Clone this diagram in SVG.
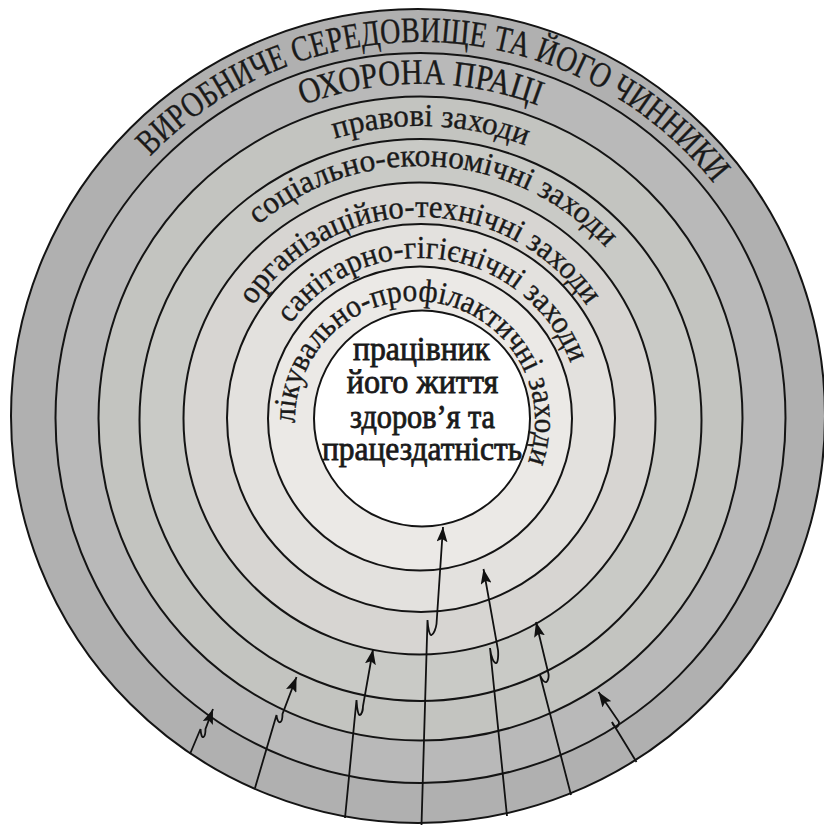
<svg xmlns="http://www.w3.org/2000/svg" width="824" height="827" viewBox="0 0 824 827">
<style>
.ring{stroke:#141414;stroke-width:2}
.lbl{font-family:"Liberation Serif","DejaVu Serif",serif;fill:#1a1a1a;stroke:#1a1a1a;stroke-width:0.35}
.caps{font-size:36px}
.low{font-size:32px}
.core{font-family:"Liberation Serif","DejaVu Serif",serif;font-size:33px;fill:#1a1a1a;stroke:#1a1a1a;stroke-width:0.8}
.conn{fill:none;stroke:#111;stroke-width:1.8;marker-end:url(#ah)}
</style>
<defs>
<marker id="ah" markerUnits="userSpaceOnUse" markerWidth="16" markerHeight="11" refX="15" refY="5.5" orient="auto">
<path d="M0,0 L15,5.5 L0,11 L3,5.5 z" fill="#111"/>
</marker>
<path id="p1" d="M150.25,156.50 A375,375 0 0,1 732.71,210.02"/>
<path id="p2" d="M303.03,105.15 A334,334 0 0,1 566.42,117.80"/>
<path id="p3" d="M334.63,138.76 A292,292 0 0,1 548.92,156.0"/>
<path id="p4" d="M258.02,224.96 A252,252 0 0,1 619.92,264.59"/>
<path id="p5" d="M253.36,305.60 A201,201 0 0,1 595.80,320.55"/>
<path id="p6" d="M290.56,323.95 A160,160 0 0,1 574.55,376.59"/>
<path id="p7" d="M295.02,423.09 A120,120 0 1,1 523.76,471.71"/>
</defs>
<rect width="824" height="827" fill="#fff"/>
<g id="ring1">
<circle class="ring" cx="418" cy="416" r="407" fill="#b0b0b0"/>
</g>
<g id="ring2">
<circle class="ring" cx="420.5" cy="418" r="365" fill="#b9b9b9"/>
</g>
<g id="ring3">
<circle class="ring" cx="420.5" cy="418.5" r="322" fill="#c3c4c0"/>
</g>
<g id="ring4">
<circle class="ring" cx="420.5" cy="420" r="281" fill="#c9cac6"/>
</g>
<g id="ring5">
<circle class="ring" cx="419.5" cy="418.5" r="236" fill="#d7d5d2"/>
</g>
<g id="ring6">
<circle class="ring" cx="421" cy="418" r="194" fill="#e3e1de"/>
</g>
<g id="ring7">
<circle class="ring" cx="420" cy="418.5" r="152" fill="#ebe9e6"/>
</g>
<g id="core">
<circle class="ring" cx="422" cy="418.5" r="108" fill="#ffffff"/>
<text class="core" x="353" y="360" textLength="137" lengthAdjust="spacingAndGlyphs">працівник</text>
<text class="core" x="346.7" y="393" textLength="151.6" lengthAdjust="spacingAndGlyphs">його життя</text>
<text class="core" x="350" y="428" textLength="145" lengthAdjust="spacingAndGlyphs">здоров’я та</text>
<text class="core" x="322" y="460" textLength="200" lengthAdjust="spacingAndGlyphs">працездатність</text>
</g>
<g id="labels">
<text class="lbl caps"><textPath href="#p1" textLength="638.1" lengthAdjust="spacingAndGlyphs">ВИРОБНИЧЕ СЕРЕДОВИЩЕ ТА ЙОГО ЧИННИКИ</textPath></text>
<text class="lbl caps"><textPath href="#p2" textLength="240.2" lengthAdjust="spacingAndGlyphs">ОХОРОНА ПРАЦІ</textPath></text>
<text class="lbl low"><textPath href="#p3" textLength="194.7" lengthAdjust="spacingAndGlyphs">правові заходи</textPath></text>
<text class="lbl low"><textPath href="#p4" textLength="384.8" lengthAdjust="spacingAndGlyphs">соціально-економічні заходи</textPath></text>
<text class="lbl low"><textPath href="#p5" textLength="392.9" lengthAdjust="spacingAndGlyphs">організаційно-технічні заходи</textPath></text>
<text class="lbl low"><textPath href="#p6" textLength="346.3" lengthAdjust="spacingAndGlyphs">санітарно-гігієнічні заходи</textPath></text>
<text class="lbl low"><textPath href="#p7" textLength="421" lengthAdjust="spacingAndGlyphs">лікувально-профілактичні заходи</textPath></text>
</g>
<g id="connectors">
<path class="conn" d="M190,754 L200.5,729 C201,735 202,738 203.5,737 C205,736 205.5,732 205.5,729 L213,709"/>
<path class="conn" d="M255,788 L276.5,715 C277,721 279,723 280.5,722 C282,721 282.5,717 282.5,714 L296.5,677"/>
<path class="conn" d="M345,818 L356.5,700 C357,710 358.5,716 360,715 C362,714 363,709 363,706 L373,649.5"/>
<path class="conn" d="M421.5,825 L427.5,620 C428,630 430,636 431.5,635 C434,634 436,628 436.5,624 L443,527"/>
<path class="conn" d="M507,816 L490,648 C491,657 494,664 496.5,663 C498,662 498.5,655 498,650 L483.5,569"/>
<path class="conn" d="M571,795 L540,675 C542,680 544.5,683 546.5,682 C548,681 549,677 548.5,674 L536,622"/>
<path class="conn" d="M636.5,762 L612,722 C613,725 615,728 617,727 C618.5,726 619,724 619,722 L598.5,692"/>
</g>
</svg>
